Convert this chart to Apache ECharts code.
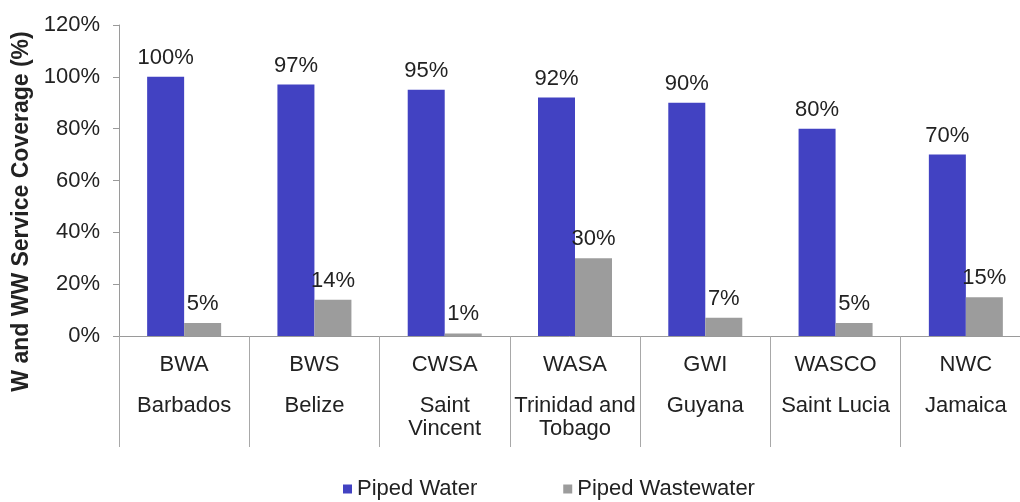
<!DOCTYPE html>
<html>
<head>
<meta charset="utf-8">
<script src="https://cdn.jsdelivr.net/npm/echarts@6/dist/echarts.min.js"></script>
<style>
html,body{margin:0;padding:0;background:#fff;}
#chart{width:1020px;height:502px;}
</style>
</head>
<body>
<div id="chart"></div>
<script>
const codes = ['BWA', 'BWS', 'CWSA', 'WASA', 'GWI', 'WASCO', 'NWC'];
const countries = ['Barbados', 'Belize', 'Saint\nVincent', 'Trinidad and\nTobago', 'Guyana', 'Saint Lucia', 'Jamaica'];
const pipedWater = [100, 97, 95, 92, 90, 80, 70];
const pipedWastewater = [5, 14, 1, 30, 7, 5, 15];
const yTicks = [0, 20, 40, 60, 80, 100, 120];

const FONT = '"Liberation Sans", Arial, sans-serif';
const chart = echarts.init(document.getElementById('chart'));
chart.setOption({
  backgroundColor: '#ffffff',
  animation: false,
  textStyle: { fontFamily: FONT },
  grid: { left: 119, right: -11, top: 25, bottom: 166, containLabel: false, outerBoundsMode: 'none' },
  legend: {
    left: 338, top: 473,
    itemWidth: 9, itemHeight: 9, itemGap: 86,
    icon: 'rect',
    textStyle: { fontSize: 22, color: '#222', fontFamily: FONT },
    data: ['Piped Water', 'Piped Wastewater']
  },
  xAxis: {
    type: 'category',
    data: codes,
    axisLine: { lineStyle: { color: '#9a9a9a', width: 1 } },
    axisTick: { show: true, length: 111, interval: 0, alignWithLabel: false, lineStyle: { color: '#a8a8a8' } },
    axisLabel: {
      interval: 0, margin: 0,
      formatter: function (v, i) {
        const lines = countries[i].split('\n').map(s => '{b|' + s + '}').join('\n');
        return '{a|' + v + '}\n' + lines;
      },
      rich: {
        a: { fontSize: 22, lineHeight: 58, color: '#222', fontFamily: FONT },
        b: { fontSize: 22, lineHeight: 23, color: '#222', fontFamily: FONT }
      }
    }
  },
  yAxis: {
    type: 'value',
    min: 0, max: 120, interval: 20,
    name: 'W and WW Service Coverage (%)',
    nameLocation: 'middle',
    nameRotate: 90,
    nameGap: 83,
    nameTextStyle: { fontSize: 23, fontWeight: 'bold', color: '#222', fontFamily: FONT, padding: [0, 62, 0, 0] },
    axisLine: { show: true, lineStyle: { color: '#9a9a9a' } },
    axisTick: { show: true, length: 6, lineStyle: { color: '#9a9a9a' } },
    splitLine: { show: false },
    axisLabel: { fontSize: 22, color: '#222', margin: 19, formatter: '{value}%', fontFamily: FONT }
  },
  series: [
    {
      name: 'Piped Water', type: 'bar', data: pipedWater,
      barWidth: 37, barGap: '0%',
      itemStyle: { color: '#4242c2' },
      label: { show: true, position: 'top', distance: 8, formatter: '{c}%', fontSize: 22, color: '#222', fontFamily: FONT }
    },
    {
      name: 'Piped Wastewater', type: 'bar', data: pipedWastewater,
      barWidth: 37, barGap: '0%',
      itemStyle: { color: '#9c9c9c' },
      label: { show: true, position: 'top', distance: 8, formatter: '{c}%', fontSize: 22, color: '#222', fontFamily: FONT }
    }
  ]
});
</script>
</body>
</html>
